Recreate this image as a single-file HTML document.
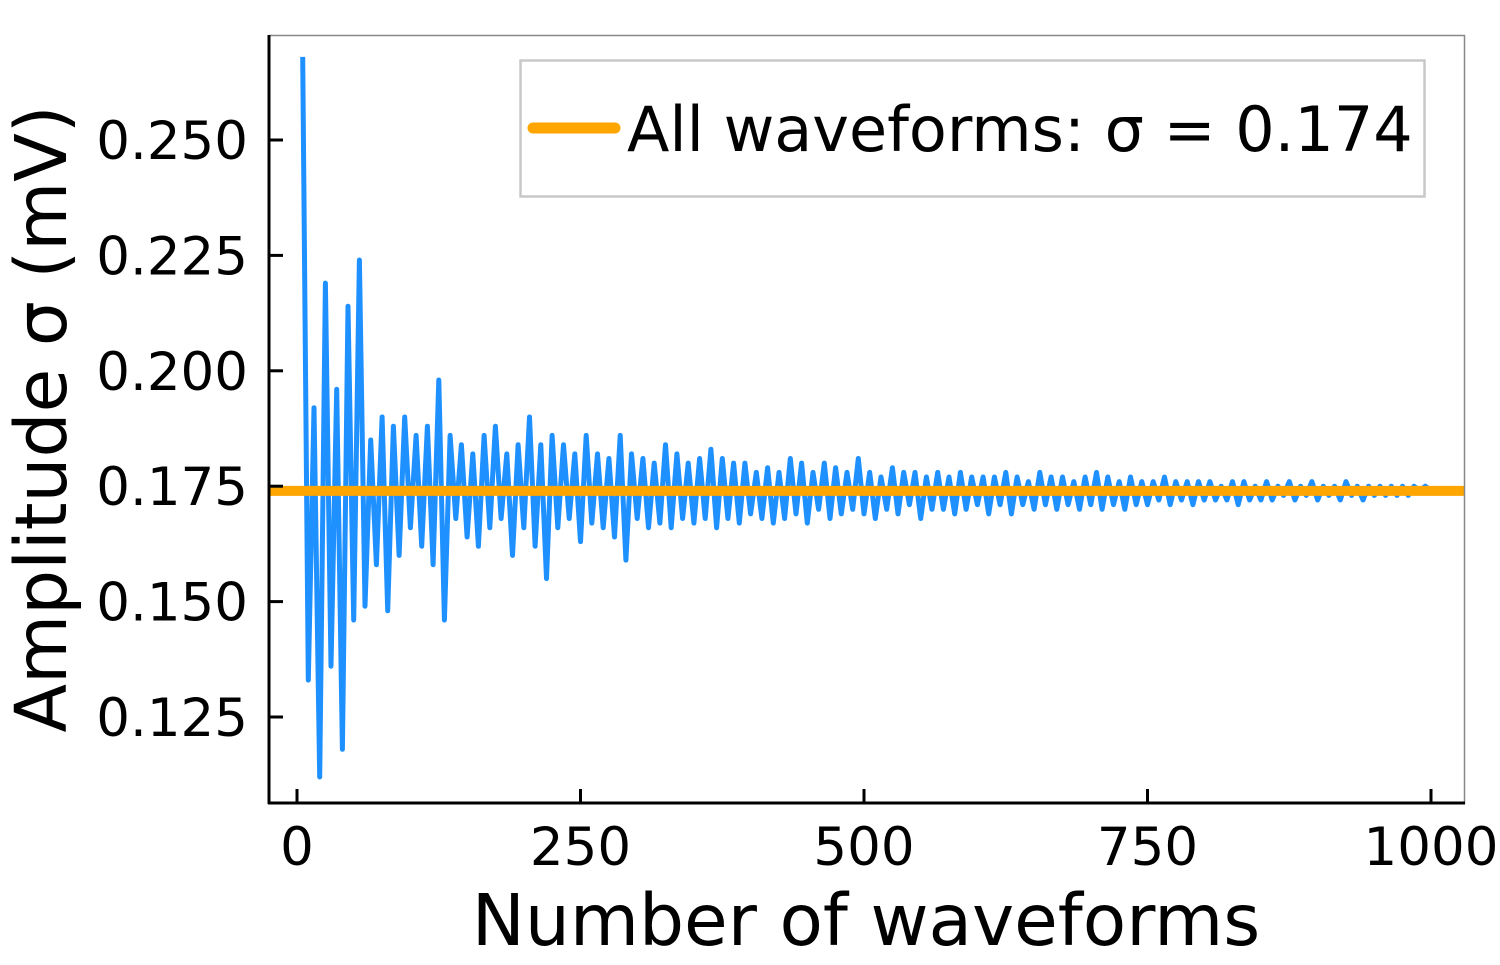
<!DOCTYPE html>
<html><head><meta charset="utf-8"><style>
body{margin:0;background:#fff}
svg text{font-family:"DejaVu Sans","Liberation Sans",sans-serif;fill:#000}
</style></head><body>
<svg id="chart" width="1500" height="960" viewBox="0 0 1500 960" xmlns="http://www.w3.org/2000/svg">
<rect x="0" y="0" width="1500" height="960" fill="#fff"/>
<g id="plot"></g>
<rect x="269.5" y="35.5" width="1195" height="768" fill="none" stroke="#888" stroke-width="1.5"/>
<line x1="269" y1="35" x2="269" y2="804" stroke="#000" stroke-width="3"/>
<line x1="268" y1="803" x2="1465" y2="803" stroke="#000" stroke-width="3"/>
<g id="ticks"></g>
<text x="866" y="945" font-size="71" text-anchor="middle">Number of waveforms</text>
<text transform="translate(66,419) rotate(-90)" font-size="71" text-anchor="middle">Amplitude σ (mV)</text>
<g>
<rect x="520.5" y="60.5" width="904" height="136" fill="#fff" stroke="#c8c8c8" stroke-width="2.5"/>
<line x1="533" y1="128" x2="615" y2="128" stroke="#ffa500" stroke-width="11" stroke-linecap="round"/>
<text x="627" y="151" font-size="62">All waveforms: σ = 0.174</text>
</g>
</svg>
<script>
const xStart = 5, xStep = 5;
const sigmaValues = [0.268,0.133,0.192,0.112,0.219,0.136,0.196,0.118,0.214,0.146,0.224,0.149,0.185,0.158,0.190,0.148,0.188,0.160,0.190,0.166,0.186,0.162,0.188,0.158,0.198,0.146,0.186,0.168,0.184,0.164,
0.182,0.162,0.186,0.166,0.188,0.168,0.182,0.160,0.184,0.166,0.190,0.162,0.184,0.155,0.186,0.166,0.184,0.168,0.182,0.163,0.186,0.167,0.182,0.166,0.181,0.164,0.186,0.159,0.182,0.168,
0.181,0.166,0.180,0.167,0.184,0.166,0.182,0.168,0.180,0.167,0.181,0.168,0.183,0.166,0.181,0.168,0.180,0.167,0.180,0.169,0.178,0.168,0.179,0.167,0.178,0.168,0.181,0.169,0.180,0.167,0.178,0.170,0.180,0.168,0.179,0.169,0.178,0.170,0.181,0.169,
0.178,0.168,0.177,0.170,0.179,0.169,0.178,0.171,0.178,0.168,0.177,0.170,0.178,0.170,0.177,0.169,0.178,0.170,0.177,0.171,0.177,0.169,0.177,0.171,0.178,0.169,0.177,0.171,0.176,0.170,0.178,0.171,0.177,0.170,0.177,0.171,0.176,0.170,0.177,0.171,0.178,0.170,0.177,0.171,0.176,0.170,0.177,0.171,0.176,0.171,
0.176,0.172,0.177,0.171,0.176,0.172,0.176,0.171,0.176,0.172,0.176,0.172,0.175,0.172,0.176,0.171,0.176,0.172,0.175,0.172,0.176,0.172,0.175,0.173,0.176,0.172,0.175,0.173,0.176,0.172,0.175,0.173,0.175,0.172,0.176,0.173,0.175,0.172,0.175,0.173,0.175,0.173,0.175,0.173,0.175,0.173,0.175,0.174,0.175,0.174];
const overallSigma = 0.174;
const xTicks = [0,250,500,750,1000];
const yTicks = [0.125,0.150,0.175,0.200,0.225,0.250];
const yTickLabels = ["0.125","0.150","0.175","0.200","0.225","0.250"];

const NS = "http://www.w3.org/2000/svg";
function xPx(v){ return 297 + (v/1000)*(1431-297); }
function yPx(v){ return 140 + (0.250 - v)/0.125*(717-140); }

const plot = document.getElementById('plot');
let d = '';
sigmaValues.forEach((v,i)=>{ d += (i?'L':'M') + xPx(xStart + i*xStep).toFixed(1) + ' ' + yPx(v).toFixed(1); });
const path = document.createElementNS(NS,'path');
path.setAttribute('d', d);
path.setAttribute('fill','none');
path.setAttribute('stroke','#1e90ff');
path.setAttribute('stroke-width','5');
path.setAttribute('stroke-linejoin','round');


plot.appendChild(path);

const hl = document.createElementNS(NS,'line');
hl.setAttribute('x1', 269); hl.setAttribute('x2', 1464);
hl.setAttribute('y1', yPx(overallSigma)); hl.setAttribute('y2', yPx(overallSigma));
hl.setAttribute('stroke','#ffa500'); hl.setAttribute('stroke-width','10');


plot.appendChild(hl);

const ticks = document.getElementById('ticks');
xTicks.forEach(t=>{
  const l = document.createElementNS(NS,'line');
  l.setAttribute('x1', xPx(t)); l.setAttribute('x2', xPx(t));
  l.setAttribute('y1', 803); l.setAttribute('y2', 789);
  l.setAttribute('stroke','#000'); l.setAttribute('stroke-width','3');
  
  
  ticks.appendChild(l);
  const tx = document.createElementNS(NS,'text');
  tx.setAttribute('x', xPx(t)); tx.setAttribute('y', 865);
  tx.setAttribute('font-size','53'); tx.setAttribute('text-anchor','middle');
  tx.textContent = String(t);
  
  
  ticks.appendChild(tx);
});
yTicks.forEach((t,i)=>{
  const l = document.createElementNS(NS,'line');
  l.setAttribute('x1', 269); l.setAttribute('x2', 283);
  l.setAttribute('y1', yPx(t)); l.setAttribute('y2', yPx(t));
  l.setAttribute('stroke','#000'); l.setAttribute('stroke-width','3');
  
  
  ticks.appendChild(l);
  const tx = document.createElementNS(NS,'text');
  tx.setAttribute('x', 248); tx.setAttribute('y', yPx(t)+19);
  tx.setAttribute('font-size','53'); tx.setAttribute('text-anchor','end');
  tx.textContent = yTickLabels[i];
  
  
  ticks.appendChild(tx);
});
</script>
</body></html>
